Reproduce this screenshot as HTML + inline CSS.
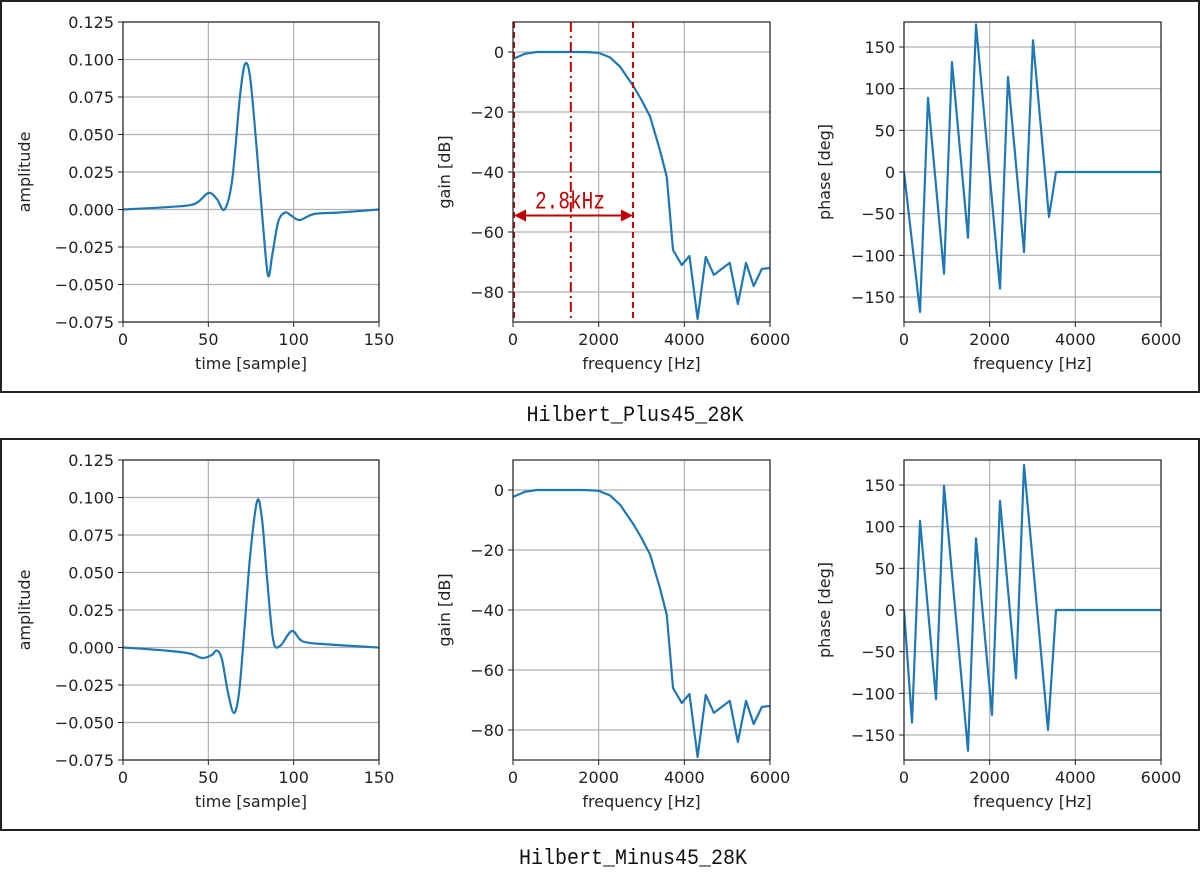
<!DOCTYPE html>
<html><head><meta charset="utf-8"><style>
html,body{margin:0;padding:0;background:#fff;}
svg{display:block;font-family:"DejaVu Sans","Liberation Sans",sans-serif;}
</style></head><body>
<svg id="fig" width="1200" height="880" viewBox="0 0 1200 880" xmlns="http://www.w3.org/2000/svg">
<rect x="1" y="1" width="1198" height="391" fill="none" stroke="#222" stroke-width="2"/>
<rect x="1" y="439" width="1198" height="391" fill="none" stroke="#222" stroke-width="2"/>
<text x="635" y="421" text-anchor="middle" font-family="Liberation Mono, monospace" font-size="22" textLength="217" lengthAdjust="spacingAndGlyphs" fill="#111">Hilbert_Plus45_28K</text>
<text x="633" y="864" text-anchor="middle" font-family="Liberation Mono, monospace" font-size="22" textLength="228" lengthAdjust="spacingAndGlyphs" fill="#111">Hilbert_Minus45_28K</text>
<g id="plots"></g>
</svg>
<script>
// ---- data ----
const ampPlusT = [0,27.5,42,50,55,59.5,64,68.5,71.5,74.5,78,82,85,87.5,91,95,98.5,103.5,112,127,150];
const ampPlusV = [0,0.0017,0.0037,0.011,0.007,0,0.02,0.075,0.097,0.088,0.045,-0.01,-0.044,-0.03,-0.008,-0.002,-0.004,-0.007,-0.003,-0.002,0];
const ampMinusT = [0,24.6,39,46.5,52,55,58,61.5,65,68,71,74.5,78.6,81.5,84.5,88,92,99,105.5,121,150];
const ampMinusV = [0,-0.002,-0.004,-0.007,-0.005,-0.002,-0.008,-0.03,-0.0437,-0.03,0.01,0.061,0.0977,0.085,0.045,0.005,0.001,0.011,0.004,0.002,0];
const gainF = [0,280,560,1500,1750,2000,2265,2500,2820,3000,3200,3430,3590,3736,3940,4120,4310,4500,4690,5060,5250,5440,5620,5810,6000];
const gainV = [-2.3,-0.6,0,0,-0.05,-0.3,-1.8,-4.9,-11.6,-16,-21.5,-32.7,-41.6,-66,-71,-68,-89,-68.3,-74.3,-70.3,-84,-70.3,-78,-72.3,-72];
const phasePlusF = [0,374,560,934,1120,1494,1681,2241,2428,2802,3012,3385,3549,6000];
const phasePlusV = [0,-168,89,-122,132,-79,177,-140,114,-96,158,-54,0,0];
const phaseMinusF = [0,187,374,747,934,1494,1681,2054,2241,2615,2802,3362,3549,6000];
const phaseMinusV = [0,-135,107,-107,149,-169,86,-126,131,-82,174,-144,0,0];
const ampTicks = ["0.125","0.100","0.075","0.050","0.025","0.000","−0.025","−0.050","−0.075"];
const ampTickVals = [0.125,0.1,0.075,0.05,0.025,0,-0.025,-0.05,-0.075];
const timeTicks = [0,50,100,150];
const freqTicks = [0,2000,4000,6000];
const gainTicks = [0,-20,-40,-60,-80];
const phaseTicks = [150,100,50,0,-50,-100,-150];
const markerFreqs = [0,1350,2800];

const NS="http://www.w3.org/2000/svg";
const root=document.getElementById('plots');
function el(tag,attrs,parent){const e=document.createElementNS(NS,tag);for(const k in attrs)e.setAttribute(k,attrs[k]);(parent||root).appendChild(e);return e;}
function txt(s,attrs,parent){const e=el('text',attrs,parent);e.textContent=s;return e;}

function smoothPath(pts){
  let d=`M${pts[0][0]},${pts[0][1]}`;
  for(let i=0;i<pts.length-1;i++){
    const p0=pts[Math.max(0,i-1)],p1=pts[i],p2=pts[i+1],p3=pts[Math.min(pts.length-1,i+2)];
    const c1=[p1[0]+(p2[0]-p0[0])/6,p1[1]+(p2[1]-p0[1])/6];
    const c2=[p2[0]-(p3[0]-p1[0])/6,p2[1]-(p3[1]-p1[1])/6];
    d+=` C${c1[0]},${c1[1]} ${c2[0]},${c2[1]} ${p2[0]},${p2[1]}`;
  }
  return d;
}

function axes(cfg){
  const g=el('g',{});
  
  
  const {x0,x1,y0,y1,xmin,xmax,ymin,ymax}=cfg;
  const sx=v=>x0+(v-xmin)/(xmax-xmin)*(x1-x0);
  const sy=v=>y1-(v-ymin)/(ymax-ymin)*(y1-y0);
  cfg.xt.forEach(v=>{
    const gl=el('line',{x1:sx(v),x2:sx(v),y1:y0,y2:y1,stroke:'#b0b0b0','stroke-width':1.2},g);
    
    
    el('line',{x1:sx(v),x2:sx(v),y1:y1,y2:y1+5,stroke:'#222','stroke-width':1},g);
    const t=txt(String(v),{x:sx(v),y:y1+23,'text-anchor':'middle','font-size':16,fill:'#222'},g);
    
    
  });
  cfg.yt.forEach((v,i)=>{
    const gl=el('line',{x1:x0,x2:x1,y1:sy(v),y2:sy(v),stroke:'#b0b0b0','stroke-width':1.2},g);
    
    
    el('line',{x1:x0-5,x2:x0,y1:sy(v),y2:sy(v),stroke:'#222','stroke-width':1},g);
    const t=txt(cfg.ytl?cfg.ytl[i]:String(v).replace('-','−'),{x:x0-9,y:sy(v)+6,'text-anchor':'end','font-size':16,fill:'#222'},g);
    
    
  });
  const xl=txt(cfg.xlabel,{x:(x0+x1)/2,y:y1+47,'text-anchor':'middle','font-size':16,fill:'#222'},g);
  
  
  const yl=txt(cfg.ylabel,{x:0,y:0,'text-anchor':'middle','font-size':16,fill:'#222',transform:`translate(${cfg.ylx},${(y0+y1)/2}) rotate(-90)`},g);
  
  
  const clipId='c'+cfg.name;
  const cp=el('clipPath',{id:clipId},g);el('rect',{x:x0,y:y0,width:x1-x0,height:y1-y0},cp);
  const pts=cfg.xs.map((v,i)=>[sx(v),sy(cfg.ys[i])]);
  const d=cfg.smooth?smoothPath(pts):'M'+pts.map(p=>p.join(',')).join(' L');
  const line=el('path',{d,fill:'none',stroke:'#1f77b4','stroke-width':2.2,'stroke-linejoin':'round','clip-path':`url(#${clipId})`},g);
  
  
  if(cfg.extra)cfg.extra(g,sx,sy);
  const fr=el('rect',{x:x0,y:y0,width:x1-x0,height:y1-y0,fill:'none',stroke:'#222','stroke-width':1.2},g);
  
  
}

[0,438].forEach((off,k)=>{
  const y0=22+off,y1=322+off;
  axes({name:k?'minus-impulse-plot':'plus-impulse-plot',x0:123,x1:379,y0,y1,xmin:0,xmax:150,ymin:-0.075,ymax:0.125,xt:timeTicks,yt:ampTickVals,ytl:ampTicks,xlabel:'time [sample]',ylabel:'amplitude',ylx:30,xs:k?ampMinusT:ampPlusT,ys:k?ampMinusV:ampPlusV,smooth:true});
  axes({name:k?'minus-gain-plot':'plus-gain-plot',x0:513,x1:770,y0,y1,xmin:0,xmax:6000,ymin:-90,ymax:10,xt:freqTicks,yt:gainTicks,xlabel:'frequency [Hz]',ylabel:'gain [dB]',ylx:450,xs:gainF,ys:gainV,
    extra:k?null:(g,sx,sy)=>{
      markerFreqs.forEach((f,i)=>{
        const l=el('line',{x1:sx(f)+(i==0?1:0),x2:sx(f)+(i==0?1:0),y1:y0,y2:y1,stroke:'#c00000','stroke-width':2,'stroke-dasharray':i==1?'10,4,2,4':'6,4'},g);
        
        
      });
      const ay=sy(-54.5);
      const a=el('line',{x1:sx(0)+10,x2:sx(2800)-10,y1:ay,y2:ay,stroke:'#c00000','stroke-width':2},g);
      
      
      el('path',{d:`M${sx(0)+1},${ay} l12,-6 v12z M${sx(2800)},${ay} l-12,-6 v12z`,fill:'#c00000'},g);
      const t=txt('2.8kHz',{x:570,y:ay-7,'text-anchor':'middle','font-family':'Liberation Mono, monospace','font-size':25,textLength:70,lengthAdjust:'spacingAndGlyphs',fill:'#c00000'},g);
      
      
    }});
  axes({name:k?'minus-phase-plot':'plus-phase-plot',x0:904,x1:1161,y0,y1,xmin:0,xmax:6000,ymin:-180,ymax:180,xt:freqTicks,yt:phaseTicks,xlabel:'frequency [Hz]',ylabel:'phase [deg]',ylx:830,xs:k?phaseMinusF:phasePlusF,ys:k?phaseMinusV:phasePlusV});
});
</script>
</body></html>
